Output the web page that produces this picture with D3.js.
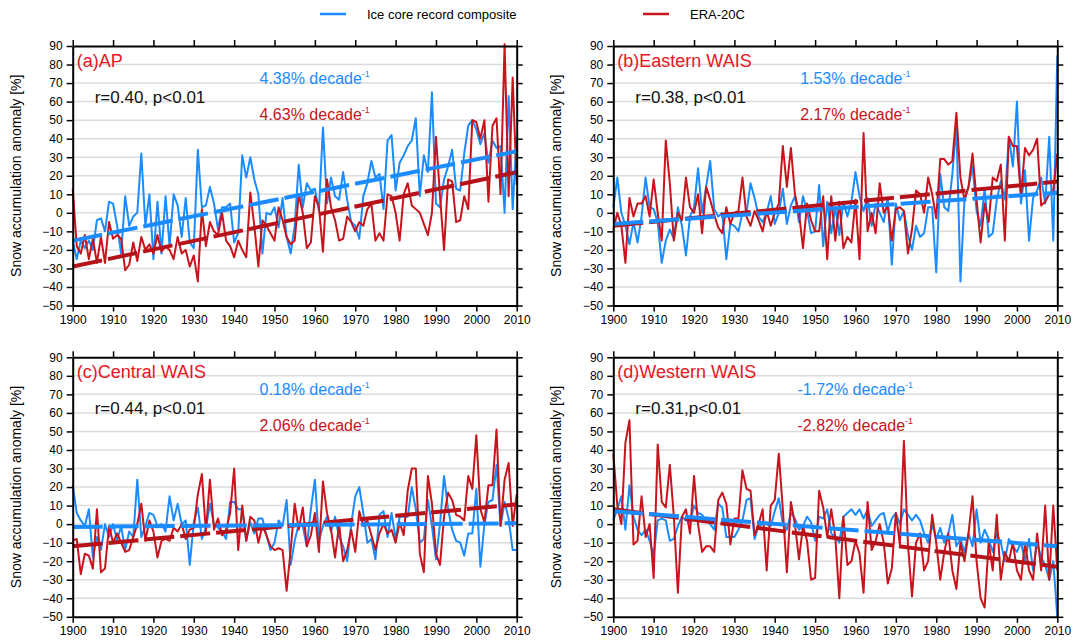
<!DOCTYPE html>
<html>
<head>
<meta charset="utf-8">
<script src="https://cdn.jsdelivr.net/npm/d3@7"></script>
<style>
  body { margin: 0; background: #fff; }
  svg { display: block; font-family: "Liberation Sans", Arial, Helvetica, sans-serif; }
</style>
</head>
<body>
<svg id="chart"></svg>
<script>
const width = 1086;
const height = 644;

// Years and tick values
const years = d3.range(1900, 2011);
const xTicks = d3.range(1900, 2011, 10);
const yTicks = d3.range(-50, 91, 10);

// (a) AP
const iceAP = [
  -15, -25, -15, -19, -15, -20, -4, -3, -10, 6,
  5, -7, -22, 9, -7, -2, 0, 32, -7, 10,
  -25, 6, -22, 9, -18, 10, 4, -13, 8, -16,
  -19, 34, 3, 4, 14, 5, -9, 3, 3, 5,
  -16, -11, 31, 19, 30, 18, 10, -22, 0, -1,
  3, -8, 8, -13, -22, -7, 26, 3, 16, 12,
  13, 1, 46, 5, 19, 9, 7, 22, 7, -5,
  -7, -14, 9, 16, 28, 19, 21, 2, 39, 42,
  12, 27, 31, 36, 39, 51, 9, 31, 22, 65,
  5, 3, 18, 25, 34, 13, 12, 32, 47, 50,
  45, 37, 43, 27, 39, 35, 36, 0, 63, 2, 41
];
const eraAP = [
  13, -18, -22, -12, -25, -14, -27, -13, -27, -5,
  -14, -12, -14, -31, -28, -16, -26, -13, -20, -17,
  -22, -12, -21, -18, -20, -25, -13, -22, -20, -29,
  -23, -37, 2, -18, -5, -10, -12, 0, -15, -18,
  -24, -15, -20, -24, 11, -7, -29, -4, -7, -11,
  -15, 3, -4, -13, -17, -15, 10, 0, -19, -16,
  9, 3, -21, 18, 3, -4, -15, -14, -2, -5,
  -10, -5, -7, 2, 5, -15, -11, -15, 10, 9,
  0, -15, 10, 16, 4, 2, 0, -6, -12, 0,
  41, 9, -20, 18, 17, -5, -4, 9, 2, 50,
  49, 40, 50, 6, 47, 51, 10, 91, 9, 73, 15
];

// (b) Eastern WAIS
const iceEW = [
  3, 19, 0, -7, -17, -5, -16, -2, 19, 3,
  2, -5, -27, -15, -9, -14, 3, -7, -23, -2,
  3, 24, 0, 14, 28, 2, -2, 0, -25, -6,
  -7, -10, 0, 0, 16, 8, -2, -5, 0, 9,
  -6, 0, 13, -6, 4, 9, -5, 9, 1, -11,
  -10, 15, -18, 6, -11, 3, -12, 6, -2, 6,
  22, 9, 1, 8, -7, 5, 0, -5, 8, -28,
  5, -4, 1, -12, -20, -7, -13, -11, 3, 3,
  -32, 21, 3, 1, 21, 47, -37, 7, 14, 25,
  1, -7, 13, -13, -11, 7, 17, 7, 41, 25,
  60, 5, 23, -15, 8, 12, 19, 5, 41, -15, 85
];
const eraEW = [
  -9, 0, -7, -27, 8, -2, 5, 5, 9, -2,
  18, 0, -15, 39, 16, -15, 0, -4, 19, 3,
  0, 10, -11, 14, 7, -1, -8, -11, 3, -6,
  0, 1, 19, -2, -7, 1, -4, -10, 1, -7,
  0, 5, 36, 14, 35, 10, 0, -19, 5, -4,
  -10, -10, 9, -25, 9, -15, 6, -19, -13, -16,
  7, -25, 43, -10, 0, -11, 16, 0, 4, -15,
  2, 3, 1, -22, -9, 12, 10, 0, 19, 10,
  -3, 29, 29, 26, 28, 54, 19, 7, 14, 32,
  7, -16, 5, -5, 19, 17, 26, -15, 41, 36,
  36, 9, 35, 31, 34, 40, 4, 6, 10, 12, 32
];

// (c) Central WAIS
const iceCW = [
  21, 6, 2, -1, 8, -18, -7, -14, 0, -7,
  0, -9, -1, -14, -4, -7, 24, -7, -1, 6,
  5, -1, 0, -4, 15, 2, 11, 0, 2, -22,
  1, 9, -8, -2, 11, 0, -2, -4, -8, 12,
  12, 8, 8, -9, 1, -5, 3, 3, -6, -14,
  -10, 2, -1, 13, -22, -9, 0, -1, -12, 8,
  24, -9, -1, 4, -4, 4, -7, -12, -20, 0,
  15, 20, 6, -10, -8, -19, 5, 7, -7, 6,
  -8, 4, 4, 4, 20, 8, -10, -8, 13, -1,
  -19, 0, 26, 8, -3, -9, -10, -17, -5, -5,
  19, -23, 0, 12, 13, 32, -1, 12, 3, -14, -14
];
const eraCW = [
  -9, -8, -27, -16, -17, -24, 8, -26, -24, -1,
  -10, -5, -10, -15, -14, -7, 0, 11, -9, 2,
  -4, -18, -9, -8, -9, -2, -4, 0, -8, -3,
  -2, 16, 27, -4, 24, -3, 3, -6, -3, 6,
  30, -14, 10, -9, 4, 2, -10, -1, -6, -12,
  -14, -13, -14, -36, -14, 11, -3, 9, -12, -6,
  6, -15, 23, 6, -3, -18, 0, -20, -14, -3,
  -15, 7, -1, 2, -6, -14, -5, 0, -5, -3,
  -10, 1, -6, 18, 30, 30, -16, -26, 26, 11,
  -16, -22, 4, 17, 13, 5, 4, 2, 26, 19,
  48, 8, 1, 21, 21, 51, -1, 24, 33, -1, 16
];

// (d) Western WAIS
const iceWW = [
  2, 8, 15, -3, 21, 4, -3, -6, -3, -9,
  -17, 2, 3, 2, -9, -8, -1, 4, 2, 1,
  10, 6, 5, 2, 0, -3, 11, 9, -7, -7,
  -7, -3, 2, 13, 14, -8, -1, 0, 0, -1,
  7, 14, 0, -3, 6, 3, -3, -1, 4, 1,
  -9, 4, 3, 8, -5, -7, -10, 4, 6, 8,
  5, 8, 3, 8, -1, 2, 5, 6, -4, 3,
  6, 0, 8, 5, 2, 5, 2, -5, -10, 0,
  -8, -2, -10, -5, 5, -12, -8, -15, -5, -12,
  8, -10, -3, -8, -15, -5, -10, -20, -8, -12,
  -15, -10, -20, -8, -25, -10, -18, -22, -30, -20, -50
];
const eraWW = [
  38, 10, 0, 44, 56, -11, -9, 15, -7, 0,
  -29, 43, 12, 9, 32, 4, -37, 4, 8, -5,
  26, 0, -15, -12, -12, -15, 13, 17, 11, -11,
  3, 3, 29, 19, 18, -6, 0, 8, -25, 10,
  13, 38, 8, -26, 12, 0, -19, -1, -9, -30,
  -29, 18, 9, -7, 8, -7, -40, 4, -22, -20,
  -9, -16, -37, 12, -14, -9, 0, -10, -32, -24,
  6, -11, 45, -11, -39, -10, -5, -25, -20, 5,
  -10, -30, -15, -5, -25, -35, -10, -20, -5, 15,
  -20, -40, -45, -10, -25, 5, -30, -15, -20, -10,
  -25, -30, -10, -25, -30, -5, -25, 10, -30, 10, -25
];

// Trend lines: value in 1900 and slope in % per decade
const panelNames = ["(a)AP", "(b)Eastern WAIS", "(c)Central WAIS", "(d)Western WAIS"];
const corrLabels = ["r=0.40, p<0.01", "r=0.38, p<0.01", "r=0.44, p<0.01", "r=0.31,p<0.01"];
const iceSlopes = [4.38, 1.53, 0.18, -1.72];
const eraSlopes = [4.63, 2.17, 2.06, -2.82];
const iceStarts = [-15, -6, -1.5, 7];
const eraStarts = [-29, -7, -12, 8];

const iceSeries = [iceAP, iceEW, iceCW, iceWW];
const eraSeries = [eraAP, eraEW, eraCW, eraWW];

const iceColor = "#1b8cff";
const eraColor = "#c8141c";
const labelRed = "#e8161e";

const svg = d3.select("#chart")
  .attr("width", width)
  .attr("height", height)
  .attr("viewBox", `0 0 ${width} ${height}`);

svg.append("rect").attr("width", width).attr("height", height).attr("fill", "#fff");

// Panel geometry
const panelW = 444;
const panelH = 259.5;
const lefts = [72.7, 613.3];
const tops = [46, 357.3];

const x = d3.scaleLinear().domain([1900, 2010]).range([0, panelW]);
const y = d3.scaleLinear().domain([-50, 90]).range([panelH, 0]);

function fmtSlope(s) {
  return s.toFixed(2) + "% decade";
}

function drawPanel(i) {
  const left = lefts[i % 2];
  const top = tops[Math.floor(i / 2)];
  const g = svg.append("g").attr("transform", `translate(${left},${top})`);

  // horizontal grid lines
  g.selectAll(".grid")
    .data(yTicks.filter(v => v > -50 && v < 90))
    .enter()
    .append("line")
    .attr("x1", 0)
    .attr("x2", panelW)
    .attr("y1", d => y(d))
    .attr("y2", d => y(d))
    .attr("stroke", "#dcdcdc")
    .attr("stroke-width", 1.5);

  const line = d3.line()
    .x((d, k) => x(years[k]))
    .y(d => y(d));

  g.append("path")
    .datum(iceSeries[i])
    .attr("fill", "none")
    .attr("stroke", iceColor)
    .attr("stroke-width", 2)
    .attr("stroke-linejoin", "round")
    .attr("d", line);

  g.append("path")
    .datum(eraSeries[i])
    .attr("fill", "none")
    .attr("stroke", eraColor)
    .attr("stroke-width", 2)
    .attr("stroke-linejoin", "round")
    .attr("d", line);

  // dashed linear trends
  const trendLine = d3.line()
    .x(d => x(d[0]))
    .y(d => y(d[1]));
  const trendEnds = [1900, 2010];

  g.append("path")
    .datum(trendEnds.map(yr => [yr, eraStarts[i] + eraSlopes[i] * (yr - 1900) / 10]))
    .attr("fill", "none")
    .attr("stroke", "#b5121a")
    .attr("stroke-width", 4)
    .attr("stroke-dasharray", "30,6")
    .attr("d", trendLine);

  g.append("path")
    .datum(trendEnds.map(yr => [yr, iceStarts[i] + iceSlopes[i] * (yr - 1900) / 10]))
    .attr("fill", "none")
    .attr("stroke", iceColor)
    .attr("stroke-width", 4)
    .attr("stroke-dasharray", "30,6")
    .attr("d", trendLine);

  // axes
  const styleAxis = sel => {
    sel.select(".domain").attr("stroke", "#000").attr("stroke-width", 2);
    sel.selectAll(".tick line").attr("stroke", "#000").attr("stroke-width", 1.5);
    sel.selectAll(".tick text").attr("fill", "#000").style("font-size", "12px");
    sel.attr("font-family", null);
  };

  g.append("g")
    .attr("transform", `translate(0,${panelH})`)
    .call(d3.axisBottom(x).tickValues(xTicks).tickFormat(d3.format("d")).tickSize(6).tickSizeOuter(0).tickPadding(4))
    .call(styleAxis);

  g.append("g")
    .call(d3.axisTop(x).tickValues(xTicks).tickFormat("").tickSize(6).tickSizeOuter(0))
    .call(styleAxis);

  g.append("g")
    .call(d3.axisLeft(y).tickValues(yTicks).tickSize(6).tickSizeOuter(0).tickPadding(4))
    .call(styleAxis);

  g.append("g")
    .attr("transform", `translate(${panelW},0)`)
    .call(d3.axisRight(y).tickValues(yTicks).tickFormat("").tickSize(6).tickSizeOuter(0))
    .call(styleAxis);

  // y axis title
  g.append("text")
    .attr("transform", `translate(-52,${panelH / 2}) rotate(-90)`)
    .attr("text-anchor", "middle")
    .style("font-size", "14px")
    .attr("fill", "#000")
    .text("Snow accumulation anomaly [%]");

  // panel label
  g.append("text")
    .attr("x", 4)
    .attr("y", 21)
    .style("font-size", "18px")
    .attr("fill", labelRed)
    .text(panelNames[i]);

  // correlation text
  g.append("text")
    .attr("x", 22)
    .attr("y", 57)
    .style("font-size", "17px")
    .attr("fill", "#111")
    .text(corrLabels[i]);

  // trend texts
  const slopeTexts = [
    { s: iceSlopes[i], c: iceColor, yy: 38 },
    { s: eraSlopes[i], c: eraColor, yy: 74 }
  ];
  slopeTexts.forEach(t => {
    const txt = g.append("text")
      .attr("x", 242)
      .attr("y", t.yy)
      .attr("text-anchor", "middle")
      .style("font-size", "16px")
      .attr("fill", t.c);
    txt.append("tspan").text(fmtSlope(t.s));
    txt.append("tspan").attr("dy", -7).style("font-size", "9px").text("-1");
  });
}

for (let i = 0; i < 4; i++) drawPanel(i);

// Legend
const legend = svg.append("g");
const legendItems = [
  { label: "Ice core record composite", color: iceColor, x: 320 },
  { label: "ERA-20C", color: eraColor, x: 643 }
];
legendItems.forEach(it => {
  legend.append("line")
    .attr("x1", it.x).attr("x2", it.x + 26)
    .attr("y1", 14).attr("y2", 14)
    .attr("stroke", it.color)
    .attr("stroke-width", 2.5);
  legend.append("text")
    .attr("x", it.x + 47)
    .attr("y", 18.5)
    .style("font-size", "13px")
    .attr("fill", "#000")
    .text(it.label);
});
</script>
</body>
</html>
